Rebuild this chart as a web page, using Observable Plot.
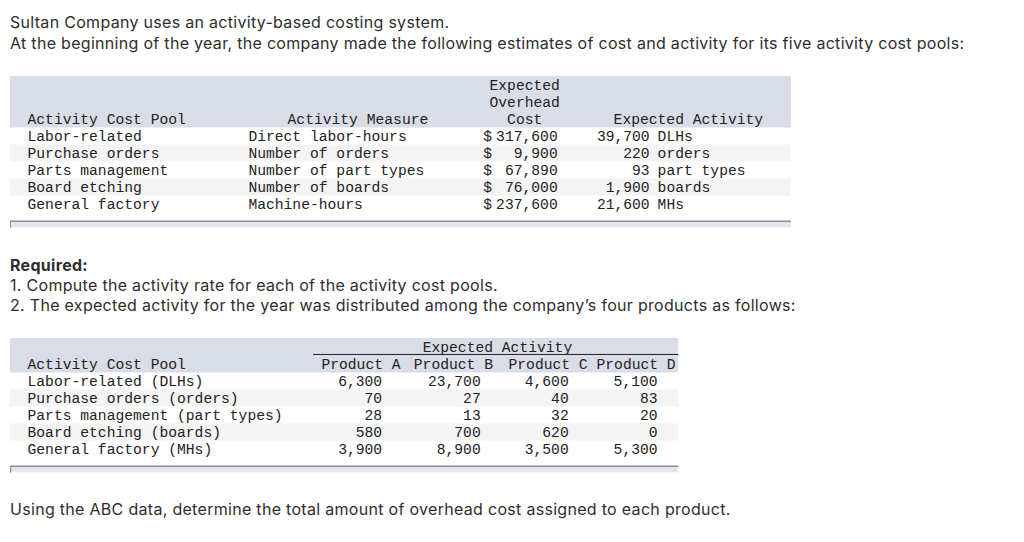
<!DOCTYPE html>
<html><head><meta charset="utf-8">
<script src="https://cdn.jsdelivr.net/npm/d3@7"></script>
<script src="https://cdn.jsdelivr.net/npm/@observablehq/plot@0.6"></script>
<style>
html,body{margin:0;padding:0;background:#fff;}
#page{position:relative;width:1024px;height:542px;overflow:hidden;font-family:"Inter","Open Sans",sans-serif;color:#2e2e2e;}
.p{position:absolute;left:10px;font-size:16px;line-height:21px;letter-spacing:0.3px;white-space:nowrap;}
.tbl{position:absolute;left:0;}
.tbl svg{display:block;}
</style></head><body><div id="page">
<div class="p" style="top:12px">Sultan Company uses an activity-based costing system.<br>At the beginning of the year, the company made the following estimates of cost and activity for its five activity cost pools:</div>
<div id="t1" class="tbl" style="top:76px"></div>
<div class="p" style="top:255px;line-height:20px"><b>Required:</b><br>1. Compute the activity rate for each of the activity cost pools.<br>2. The expected activity for the year was distributed among the company’s four products as follows:</div>
<div id="t2" class="tbl" style="top:338px"></div>
<div class="p" style="top:499px">Using the ABC data, determine the total amount of overhead cost assigned to each product.</div>
</div>
<script>
// ---- data: table 1 ----
const pools = ["Labor-related", "Purchase orders", "Parts management", "Board etching", "General factory"];
const measures = ["Direct labor-hours", "Number of orders", "Number of part types", "Number of boards", "Machine-hours"];
const overheadCost = [317600, 9900, 67890, 76000, 237600];
const expectedActivity = [39700, 220, 93, 1900, 21600];
const activityUnits = ["DLHs", "orders", "part types", "boards", "MHs"];
const header1 = {pool: "Activity Cost Pool", measure: "Activity Measure", cost: ["Expected", "Overhead", "Cost"], activity: "Expected Activity"};

// ---- data: table 2 ----
const pools2 = ["Labor-related (DLHs)", "Purchase orders (orders)", "Parts management (part types)", "Board etching (boards)", "General factory (MHs)"];
const products = ["Product A", "Product B", "Product C", "Product D"];
const productA = [6300, 70, 28, 580, 3900];
const productB = [23700, 27, 13, 700, 8900];
const productC = [4600, 40, 32, 620, 3500];
const productD = [5100, 83, 20, 0, 5300];
const header2 = {pool: "Activity Cost Pool", group: "Expected Activity"};

// ---- layout (character columns of the monospace grid, line units) ----
const CW = 8.8, X0 = 27, LH = 17, FS = 14.67;
const FONT = "Liberation Mono, Courier New, monospace";
const INK = "#222222", HEAD_BG = "#d9dde8", ZEBRA = "#f4f4f4", BORDER = "#8f8f8f", BAND = "#e3e6ee";
const fmt = d3.format(",");

function frame(height, firstLineOffset, marks) {
  return Plot.plot({
    width: 1024, height, margin: 0,
    x: {domain: [0, 1], range: [X0, X0 + CW], axis: null},
    y: {domain: [0, 1], range: [firstLineOffset, firstLineOffset + LH], axis: null},
    style: {fontFamily: FONT, fontSize: FS + "px", background: "transparent", overflow: "visible"},
    marks
  });
}
const txt = (data, o) => Plot.text(data, {fontFamily: FONT, fontSize: FS, fill: INK, ...o});
const tableChrome = (left, right, headTop, headBottom, nRows, firstRow) => [
  Plot.rect([0], {x1: () => left, x2: () => right, y1: () => headTop, y2: () => headBottom, fill: HEAD_BG}),
  Plot.rect(d3.range(nRows).filter(i => i % 2 === 1), {x1: () => left, x2: () => right, y1: i => firstRow + i - 0.5, y2: i => firstRow + i + 0.5, fill: ZEBRA}),
  Plot.rect([0], {x1: () => left, x2: () => right, y1: () => firstRow + nRows + 0.03, y2: () => firstRow + nRows + 0.37, fill: BAND}),
  Plot.rect([0], {x1: () => left, x2: () => right, y1: () => firstRow + nRows - 0.03, y2: () => firstRow + nRows + 0.06, fill: BORDER}),
  Plot.rect([0], {x1: () => left, x2: () => left + 0.12, y1: () => firstRow + nRows, y2: () => firstRow + nRows + 0.4, fill: BORDER})
];

// ---- table 1 ----
{
  const rows = pools.map((p, i) => ({pool: p, measure: measures[i], cost: overheadCost[i], act: expectedActivity[i], unit: activityUnits[i]}));
  const C = {pool: 0, measure: 25.1, measureHead: 29.55, dollar: 51.8, costRight: 60.25, costHead: 56.5, actRight: 70.7, unit: 71.6, actHead: 66.6, left: -1.93, right: 86.8};
  const R0 = 3;
  const svg = frame(153, 9, [
    ...tableChrome(C.left, C.right, -0.53, 2.5, rows.length, R0),
    txt(header1.cost, {x: () => C.costHead, y: (d, i) => i, text: d => d, textAnchor: "middle"}),
    txt([header1.pool], {x: () => C.pool, y: () => 2, text: d => d, textAnchor: "start"}),
    txt([header1.measure], {x: () => C.measureHead, y: () => 2, text: d => d, textAnchor: "start"}),
    txt([header1.activity], {x: () => C.actHead, y: () => 2, text: d => d, textAnchor: "start"}),
    txt(rows, {x: () => C.pool, y: (d, i) => R0 + i, text: "pool", textAnchor: "start"}),
    txt(rows, {x: () => C.measure, y: (d, i) => R0 + i, text: "measure", textAnchor: "start"}),
    txt(rows, {x: () => C.dollar, y: (d, i) => R0 + i, text: () => "$", textAnchor: "start"}),
    txt(rows, {x: () => C.costRight, y: (d, i) => R0 + i, text: d => fmt(d.cost), textAnchor: "end"}),
    txt(rows, {x: () => C.actRight, y: (d, i) => R0 + i, text: d => fmt(d.act), textAnchor: "end"}),
    txt(rows, {x: () => C.unit, y: (d, i) => R0 + i, text: "unit", textAnchor: "start"})
  ]);
  document.getElementById("t1").append(svg);
}

// ---- table 2 ----
{
  const series = [productA, productB, productC, productD];
  const rows = pools2.map((p, i) => ({pool: p, vals: series.map(s => s[i])}));
  const C = {pool: 0, group: 53.4, ruleL: 32.5, ruleR: 74.0, left: -1.93, right: 74.0,
             headLeft: [33.4, 43.9, 54.66, 64.66], valRight: [40.3, 51.5, 61.5, 71.6]};
  const R0 = 2;
  const cells = rows.flatMap((r, i) => r.vals.map((v, j) => ({row: i, col: j, v})));
  const svg = frame(137, 9, [
    ...tableChrome(C.left, C.right, -0.53, 1.5, rows.length, R0),
    Plot.ruleY([0.41], {x1: () => C.ruleL, x2: () => C.ruleR, stroke: INK, strokeWidth: 1}),
    txt([header2.group], {x: () => C.group, y: () => 0, text: d => d, textAnchor: "middle"}),
    txt([header2.pool], {x: () => C.pool, y: () => 1, text: d => d, textAnchor: "start"}),
    txt(products, {x: (d, j) => C.headLeft[j], y: () => 1, text: d => d, textAnchor: "start"}),
    txt(rows, {x: () => C.pool, y: (d, i) => R0 + i, text: "pool", textAnchor: "start"}),
    txt(cells, {x: d => C.valRight[d.col], y: d => R0 + d.row, text: d => fmt(d.v), textAnchor: "end"})
  ]);
  document.getElementById("t2").append(svg);
}
</script>
</body></html>
